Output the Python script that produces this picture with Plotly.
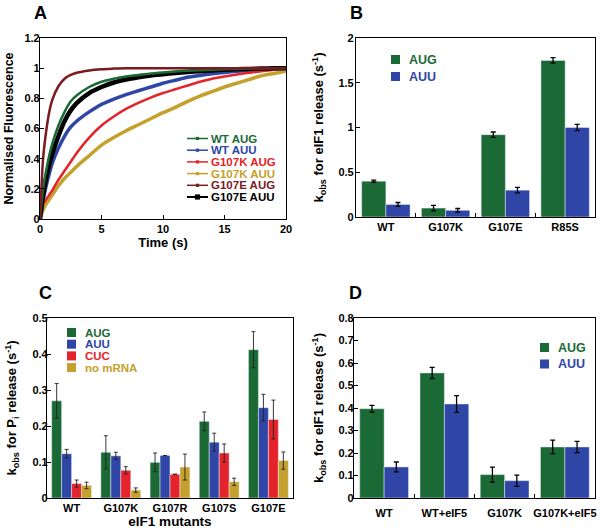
import plotly.graph_objects as go

# ---------------- data ----------------
# Panel A: normalised fluorescence time courses
time_s = [0, 0.25, 0.5, 0.75, 1, 1.5, 2, 2.5, 3, 4, 5, 6, 7, 8, 9, 10,
          11, 12, 13, 14, 15, 16, 17, 18, 19, 20]
wt_aug = [0, 0.20, 0.32, 0.42, 0.50, 0.62, 0.71, 0.78, 0.82, 0.875, 0.91, 0.93,
          0.945, 0.955, 0.965, 0.972, 0.978, 0.983, 0.987, 0.99, 0.993, 0.995,
          0.997, 0.998, 0.999, 1.0]
wt_auu = [0, 0.12, 0.22, 0.30, 0.37, 0.47, 0.55, 0.61, 0.65, 0.71, 0.76, 0.795,
          0.825, 0.85, 0.875, 0.90, 0.92, 0.94, 0.952, 0.963, 0.972, 0.98,
          0.987, 0.992, 0.996, 1.0]
g107k_aug = [0, 0.10, 0.13, 0.16, 0.19, 0.26, 0.32, 0.38, 0.44, 0.54, 0.62, 0.68,
             0.73, 0.77, 0.805, 0.835, 0.86, 0.885, 0.91, 0.93, 0.945, 0.958,
             0.97, 0.98, 0.99, 0.997]
g107k_auu = [0, 0.06, 0.10, 0.13, 0.16, 0.22, 0.27, 0.31, 0.35, 0.42, 0.49, 0.54,
             0.585, 0.625, 0.665, 0.705, 0.74, 0.78, 0.815, 0.845, 0.875, 0.90,
             0.925, 0.95, 0.965, 0.98]
g107e_aug = [0, 0.40, 0.58, 0.71, 0.79, 0.88, 0.93, 0.955, 0.97, 0.985, 0.993,
             0.997, 1.0, 1.0, 1.0, 1.0, 1.0, 1.0, 1.0, 1.0, 1.0, 1.0, 1.0, 1.0,
             1.0, 1.0]
g107e_auu = [0, 0.16, 0.27, 0.36, 0.43, 0.55, 0.65, 0.72, 0.77, 0.835, 0.875,
             0.905, 0.925, 0.94, 0.952, 0.96, 0.968, 0.975, 0.98, 0.985, 0.99,
             0.993, 0.995, 0.997, 0.999, 1.0]

# Panel B
b_cats = ["WT", "G107K", "G107E", "R85S"]
b_aug = [0.40, 0.10, 0.92, 1.75]
b_aug_err = [0.012, 0.03, 0.03, 0.03]
b_auu = [0.14, 0.075, 0.30, 1.00]
b_auu_err = [0.022, 0.02, 0.03, 0.035]

# Panel C (None = no error bar shown)
c_cats = ["WT", "G107K", "G107R", "G107S", "G107E"]
c_aug = [0.270, 0.127, 0.099, 0.213, 0.412]
c_aug_err = [0.048, 0.046, 0.026, 0.026, 0.050]
c_auu = [0.123, 0.117, 0.118, 0.155, 0.251]
c_auu_err = [0.012, 0.010, None, 0.025, 0.037]
c_cuc = [0.040, 0.077, 0.066, 0.125, 0.218]
c_cuc_err = [0.010, 0.010, None, 0.025, 0.054]
c_nomrna = [0.035, 0.022, 0.086, 0.045, 0.104]
c_nomrna_err = [0.009, 0.006, 0.036, 0.010, 0.024]

# Panel D
d_cats = ["WT", "WT+eIF5", "G107K", "G107K+eIF5"]
d_aug = [0.397, 0.556, 0.104, 0.227]
d_aug_err = [0.015, 0.025, 0.033, 0.030]
d_auu = [0.138, 0.418, 0.077, 0.227]
d_auu_err = [0.022, 0.037, 0.025, 0.025]

# ---------------- style ----------------
GREEN = "#1b6a36"
BLUE = "#2f46a6"
RED = "#e5232a"
GOLD = "#c3a12c"
DRED = "#7b1b1f"
BLACK = "#000000"
FONT = "Liberation Sans, Arial, sans-serif"

fig = go.Figure()

# ---- Panel A ----
a_series = [
    ("G107K AUU", g107k_auu, GOLD, 3.5),
    ("WT AUU", wt_auu, BLUE, 3.5),
    ("G107K AUG", g107k_aug, RED, 2.5),
    ("G107E AUU", g107e_auu, BLACK, 4.5),
    ("WT AUG", wt_aug, GREEN, 2.5),
    ("G107E AUG", g107e_aug, DRED, 2.5),
]
for name, vals, col, w in a_series:
    fig.add_trace(go.Scatter(x=time_s, y=vals, mode="lines", name=name,
                             line=dict(color=col, width=w, shape="spline", smoothing=0.6),
                             xaxis="x", yaxis="y", showlegend=False))

# ---- Panel B ----
fig.add_trace(go.Bar(x=b_cats, y=b_aug, name="AUG", marker_color=GREEN,
                     error_y=dict(type="data", array=b_aug_err, color="black", thickness=1.3, width=2.5),
                     xaxis="x2", yaxis="y2", showlegend=False))
fig.add_trace(go.Bar(x=b_cats, y=b_auu, name="AUU", marker_color=BLUE,
                     error_y=dict(type="data", array=b_auu_err, color="black", thickness=1.3, width=2.5),
                     xaxis="x2", yaxis="y2", showlegend=False))

# ---- Panel C ----
for vals, errs, col, nm in [(c_aug, c_aug_err, GREEN, "AUG"), (c_auu, c_auu_err, BLUE, "AUU"),
                            (c_cuc, c_cuc_err, RED, "CUC"), (c_nomrna, c_nomrna_err, GOLD, "no mRNA")]:
    fig.add_trace(go.Bar(x=c_cats, y=vals, name=nm, marker_color=col,
                         error_y=dict(type="data", array=errs, color="#222222", thickness=0.9, width=2),
                         xaxis="x3", yaxis="y3", showlegend=False))

# ---- Panel D ----
fig.add_trace(go.Bar(x=d_cats, y=d_aug, name="AUG", marker_color=GREEN,
                     error_y=dict(type="data", array=d_aug_err, color="black", thickness=1.3, width=2.5),
                     xaxis="x4", yaxis="y4", showlegend=False))
fig.add_trace(go.Bar(x=d_cats, y=d_auu, name="AUU", marker_color=BLUE,
                     error_y=dict(type="data", array=d_auu_err, color="black", thickness=1.3, width=2.5),
                     xaxis="x4", yaxis="y4", showlegend=False))

W, H = 605, 530


def dom_x(l, r):
    return [l / W, r / W]


def dom_y(t, b):
    return [1 - b / H, 1 - t / H]


tickfont = dict(family=FONT, size=11, color="black", weight="bold")
titlefont = dict(family=FONT, size=13, color="black", weight="bold")

axis_common = dict(showline=True, linecolor="black", linewidth=1.2, mirror=True,
                   ticks="inside", ticklen=4, tickcolor="black", tickwidth=1,
                   showgrid=False, zeroline=False, tickfont=tickfont, automargin=False,
                   tickangle=0)

layout = dict(
    width=W, height=H, margin=dict(l=0, r=0, t=0, b=0),
    paper_bgcolor="white", plot_bgcolor="white",
    barmode="group", bargap=0.19, bargroupgap=0,
    font=dict(family=FONT, color="black"),
    showlegend=False,
)

# A axes
layout["xaxis"] = dict(axis_common, domain=dom_x(40, 286), range=[0, 20], tickvals=[0, 5, 10, 15, 20],
                       anchor="y", title=dict(text="Time (s)", font=titlefont, standoff=3))
layout["yaxis"] = dict(axis_common, domain=dom_y(38, 219), range=[0, 1.2], dtick=0.2,
                       anchor="x", ticklabelstandoff=-3,
                       title=dict(text="Normalised Fluorescence", font=dict(titlefont, size=12.5), standoff=8))
# B axes
layout["xaxis2"] = dict(axis_common, domain=dom_x(356, 595), anchor="y2", tickson="boundaries")
layout["yaxis2"] = dict(axis_common, domain=dom_y(38, 217), range=[0, 2], dtick=0.5, anchor="x2",
                        ticklabelstandoff=-1,
                        title=dict(text="k<sub>obs</sub> for eIF1 release (s<sup>-1</sup>)", font=titlefont, standoff=11))
# C axes
layout["xaxis3"] = dict(axis_common, domain=dom_x(47, 293), anchor="y3", ticks="",
                        title=dict(text="eIF1 mutants", font=dict(titlefont, size=13.5), standoff=3))
layout["yaxis3"] = dict(axis_common, domain=dom_y(318, 498), range=[0, 0.5], dtick=0.1, anchor="x3",
                        ticklabelstandoff=-4,
                        title=dict(text="k<sub>obs</sub> for P<sub>i</sub> release (s<sup>-1</sup>)", font=titlefont, standoff=12))
# D axes
layout["xaxis4"] = dict(axis_common, domain=dom_x(354, 595), anchor="y4", tickson="boundaries",
                        ticklabelstandoff=5)
layout["yaxis4"] = dict(axis_common, domain=dom_y(318, 498), range=[0, 0.8], dtick=0.1, anchor="x4",
                        ticklabelstandoff=-3,
                        title=dict(text="k<sub>obs</sub> for eIF1 release (s<sup>-1</sup>)", font=titlefont, standoff=11))

fig.update_layout(**layout)

annotations = []
shapes = []

# panel letters
for letter, xp, yp in [("A", 40, 13), ("B", 356, 13), ("C", 46, 293), ("D", 355, 293)]:
    annotations.append(dict(text=letter, x=xp / W, y=1 - yp / H, xref="paper", yref="paper",
                            xanchor="center", yanchor="middle", showarrow=False,
                            font=dict(family=FONT, size=18, color="black", weight="bold")))

# legend of panel A (line + marker sample, coloured label)
a_leg = [("WT AUG", GREEN), ("WT AUU", BLUE), ("G107K AUG", RED),
         ("G107K AUU", GOLD), ("G107E AUG", DRED), ("G107E AUU", BLACK)]
for i, (name, col) in enumerate(a_leg):
    yp = 138.5 + i * 11.7
    yv = 1 - yp / H
    shapes.append(dict(type="line", xref="paper", yref="paper", x0=187 / W, x1=208 / W, y0=yv, y1=yv,
                       line=dict(color=col, width=1.5 if i < 5 else 2)))
    sz = 1.6 if i < 5 else 2.6
    shapes.append(dict(type="rect", xref="paper", yref="paper", x0=(197.5 - sz) / W, x1=(197.5 + sz) / W,
                       y0=yv - sz / H, y1=yv + sz / H, fillcolor=col, line=dict(width=0)))
    annotations.append(dict(text=name, x=209 / W, y=yv, xref="paper", yref="paper", xanchor="left",
                            yanchor="middle", showarrow=False,
                            font=dict(family=FONT, size=11.5, color=col, weight="bold")))


# bar legends
def bar_legend(items, x_sw, y_first, dy, sw=9, fs=12.5, x_txt_gap=7):
    for i, (name, col) in enumerate(items):
        yp = y_first + i * dy
        shapes.append(dict(type="rect", xref="paper", yref="paper", x0=x_sw / W, x1=(x_sw + sw) / W,
                           y0=1 - (yp + sw / 2) / H, y1=1 - (yp - sw / 2) / H, fillcolor=col,
                           line=dict(width=0)))
        annotations.append(dict(text=name, x=(x_sw + sw + x_txt_gap) / W, y=1 - yp / H, xref="paper",
                                yref="paper", xanchor="left", yanchor="middle", showarrow=False,
                                font=dict(family=FONT, size=fs, color=col, weight="bold")))


bar_legend([("AUG", GREEN), ("AUU", BLUE)], 391, 59.5, 17)
bar_legend([("AUG", GREEN), ("AUU", BLUE), ("CUC", RED), ("no mRNA", GOLD)], 67, 332.5, 11.7,
           sw=9, fs=11.5, x_txt_gap=7)
bar_legend([("AUG", GREEN), ("AUU", BLUE)], 540, 347.5, 16.5)

fig.update_layout(annotations=annotations, shapes=shapes)

fig.write_html("out.html", config={"displayModeBar": False},
               post_script="document.body.style.margin='0px';")
